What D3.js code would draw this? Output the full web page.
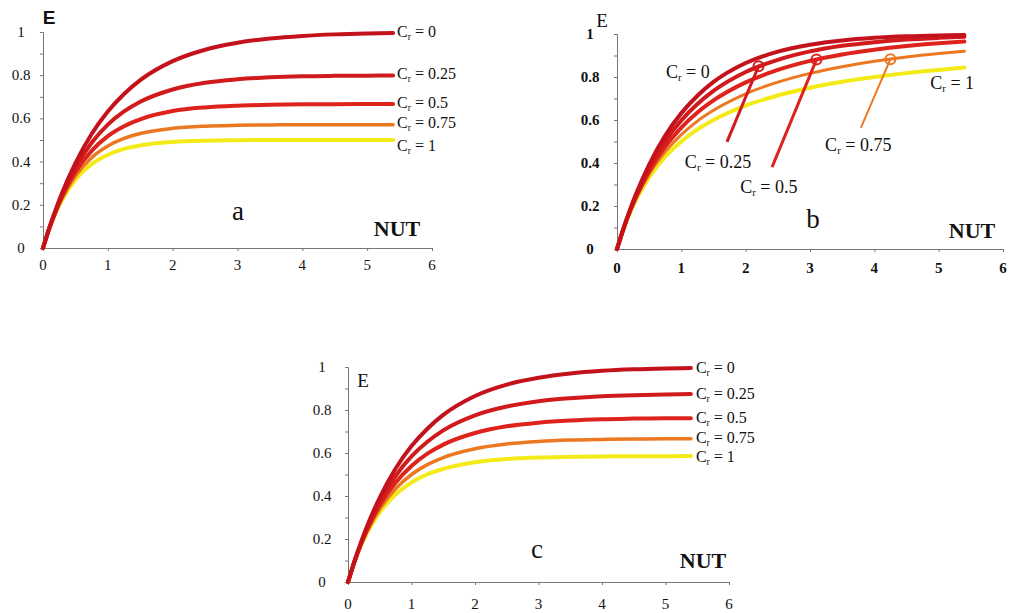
<!DOCTYPE html>
<html><head><meta charset="utf-8">
<script src="https://cdn.jsdelivr.net/npm/d3@7"></script>
<style>
html,body{margin:0;padding:0;background:#fff;}
svg{display:block;}
</style></head>
<body>
<svg id="chart" width="1009" height="613"></svg>
<script>
// ---- data ----
const nut = [0, 0.1, 0.2, 0.3, 0.5, 0.75, 1, 1.25, 1.5, 2, 2.5, 3, 3.5, 4, 4.5, 5, 5.4];
const crValues = [0, 0.25, 0.5, 0.75, 1];
const crColors = ["#c4121c", "#d01a1c", "#de221c", "#ec7822", "#f4ea18"];
const xTicks = [0, 1, 2, 3, 4, 5, 6];
const yTicks = [0, 0.2, 0.4, 0.6, 0.8, 1];
const yTickLabels = ["0", "0.2", "0.4", "0.6", "0.8", "1"];

// panel a
const aE0   = [0, 0.095, 0.181, 0.259, 0.393, 0.528, 0.632, 0.713, 0.777, 0.865, 0.918, 0.950, 0.970, 0.982, 0.989, 0.993, 0.995];
const aE025 = [0, 0.094, 0.177, 0.250, 0.372, 0.487, 0.571, 0.632, 0.677, 0.734, 0.765, 0.781, 0.790, 0.795, 0.797, 0.798, 0.799];
const aE05  = [0, 0.093, 0.173, 0.242, 0.352, 0.450, 0.518, 0.564, 0.596, 0.634, 0.651, 0.659, 0.663, 0.665, 0.666, 0.667, 0.667];
const aE075 = [0, 0.092, 0.169, 0.233, 0.333, 0.418, 0.472, 0.507, 0.530, 0.554, 0.564, 0.568, 0.570, 0.571, 0.571, 0.571, 0.571];
const aE1   = [0, 0.091, 0.165, 0.226, 0.316, 0.388, 0.432, 0.459, 0.475, 0.491, 0.497, 0.499, 0.500, 0.500, 0.500, 0.500, 0.500];
const aLabelE = [1.0, 0.806, 0.671, 0.579, 0.472];

// panel b
const bE0   = [0, 0.095, 0.181, 0.259, 0.393, 0.528, 0.632, 0.713, 0.777, 0.865, 0.918, 0.950, 0.970, 0.982, 0.989, 0.993, 0.995];
const bE025 = [0, 0.094, 0.178, 0.252, 0.378, 0.502, 0.598, 0.674, 0.735, 0.823, 0.880, 0.919, 0.945, 0.962, 0.974, 0.982, 0.987];
const bE05  = [0, 0.093, 0.174, 0.245, 0.362, 0.476, 0.565, 0.635, 0.691, 0.775, 0.833, 0.875, 0.905, 0.927, 0.944, 0.957, 0.965];
const bE075 = [0, 0.092, 0.170, 0.238, 0.348, 0.452, 0.532, 0.595, 0.645, 0.722, 0.776, 0.817, 0.848, 0.873, 0.893, 0.909, 0.920];
const bE1   = [0, 0.091, 0.167, 0.231, 0.333, 0.429, 0.500, 0.556, 0.600, 0.667, 0.714, 0.750, 0.778, 0.800, 0.818, 0.833, 0.844];
const bMarkers = [ {nut: 2.2, e: 0.850, i: 1, lx: 1.71, ly: 0.498},
                   {nut: 3.1, e: 0.881, i: 2, lx: 2.41, ly: 0.381},
                   {nut: 4.25, e: 0.883, i: 3, lx: 3.79, ly: 0.563} ];
const bLabels = [ {i: 0, nut: 1.10, e: 0.823}, {i: 1, nut: 1.57, e: 0.405}, {i: 2, nut: 2.36, e: 0.288},
                  {i: 3, nut: 3.75, e: 0.484}, {i: 4, nut: 5.21, e: 0.772} ];

// panel c
const cE0   = [0, 0.095, 0.181, 0.259, 0.393, 0.528, 0.632, 0.713, 0.777, 0.865, 0.918, 0.950, 0.970, 0.982, 0.989, 0.993, 0.995];
const cE025 = [0, 0.094, 0.177, 0.251, 0.375, 0.494, 0.584, 0.652, 0.705, 0.775, 0.816, 0.841, 0.855, 0.864, 0.869, 0.872, 0.874];
const cE05  = [0, 0.093, 0.173, 0.243, 0.357, 0.463, 0.540, 0.597, 0.639, 0.693, 0.724, 0.741, 0.751, 0.757, 0.760, 0.762, 0.762];
const cE075 = [0, 0.092, 0.170, 0.235, 0.340, 0.434, 0.500, 0.546, 0.579, 0.620, 0.642, 0.654, 0.660, 0.663, 0.665, 0.666, 0.666];
const cE1   = [0, 0.091, 0.166, 0.228, 0.324, 0.407, 0.463, 0.501, 0.526, 0.557, 0.572, 0.579, 0.582, 0.584, 0.585, 0.585, 0.586];
const cLabelE = [0.994, 0.874, 0.762, 0.669, 0.581];

// ---- drawing ----
const SERIF = '"Liberation Serif","Times New Roman",serif';
const SANS = '"Liberation Sans",Arial,sans-serif';
const svg = d3.select("#chart");

function crText(sel, cr, size) {
  sel.append("tspan").text("C");
  sel.append("tspan").attr("font-size", size * 0.6).attr("dy", 3).text("r");
  sel.append("tspan").attr("dy", -3).text(" = " + cr);
}

function panel(cfg) {
  const x = d3.scaleLinear().domain([0, 6]).range([cfg.x0, cfg.x1]);
  const y = d3.scaleLinear().domain([0, 1]).range([cfg.y0, cfg.y1]);
  const g = svg.append("g").style("font-family", SERIF).style("fill", "#111");

  // axes
  const xAxis = d3.axisBottom(x).tickValues(xTicks).tickSize(3).tickFormat("");
  const ga = g.append("g").attr("transform", `translate(0,${cfg.y0})`).call(xAxis);
  const yAxis = d3.axisLeft(y).tickValues(d3.range(0, 11).map(d => d / 10)).tickSize(3).tickFormat("");
  const gb = g.append("g").attr("transform", `translate(${cfg.x0},0)`).call(yAxis);
  [ga, gb].forEach(s => {
    s.select(".domain").attr("stroke", "#777").attr("stroke-width", 1);
    s.selectAll(".tick line").attr("stroke", "#777");
  });

  g.selectAll(".xl").data(xTicks).join("text")
    .attr("x", d => x(d)).attr("y", cfg.y0 + cfg.xlab)
    .attr("text-anchor", "middle").attr("font-size", 15)
    .attr("font-weight", cfg.tickBold ? "bold" : "normal").attr("fill", "#111").text(d => d);
  g.selectAll(".yl").data(yTicks).join("text")
    .attr("x", cfg.x0 - cfg.ylab).attr("y", d => y(d) + 5)
    .attr("text-anchor", "middle").attr("font-size", 15)
    .attr("font-weight", cfg.tickBold ? "bold" : "normal").attr("fill", "#111").text((d, i) => yTickLabels[i]);

  // curves
  const line = d3.line().x((d, i) => x(nut[i])).y(d => y(d)).curve(d3.curveMonotoneX);
  for (let i = cfg.series.length - 1; i >= 0; i--) {
    g.append("path").attr("d", line(cfg.series[i]))
      .attr("fill", "none").attr("stroke", crColors[i])
      .attr("stroke-width", cfg.widths[i]).attr("stroke-linecap", "round");
  }

  // labels
  g.append("text").attr("x", cfg.eX).attr("y", cfg.eY).attr("font-size", 19)
    .attr("font-weight", cfg.eBold ? "bold" : "normal")
    .style("font-family", cfg.eBold ? SANS : SERIF).attr("fill", "#111")
    .attr("text-anchor", "middle").text("E");
  g.append("text").attr("x", cfg.nX).attr("y", cfg.nY).attr("font-size", 22)
    .attr("font-weight", "bold").attr("fill", "#111").attr("text-anchor", "middle").text("NUT");
  g.append("text").attr("x", cfg.lX).attr("y", cfg.lY).attr("font-size", 27)
    .attr("fill", "#111").attr("text-anchor", "middle").text(cfg.letter);
  return {x, y, g};
}

// panel a
const pa = panel({x0: 43, x1: 432, y0: 248, y1: 32, xlab: 22, ylab: 22, tickBold: false,
  series: [aE0, aE025, aE05, aE075, aE1], widths: [4, 4, 4, 3.5, 4],
  eX: 49, eY: 24, eBold: true, nX: 397, nY: 236, lX: 238, lY: 220, letter: "a"});
crValues.forEach((c, i) => {
  const t = pa.g.append("text").attr("x", pa.x(5.4) + 4).attr("y", pa.y(aLabelE[i]) + 5)
    .attr("font-size", 16).attr("fill", "#111");
  crText(t, c, 16);
});

// panel b
const pb = panel({x0: 617, x1: 1003, y0: 249, y1: 34, xlab: 24, ylab: 27, tickBold: true,
  series: [bE0, bE025, bE05, bE075, bE1], widths: [4, 4, 4, 3, 4],
  eX: 602, eY: 27, eBold: false, nX: 972, nY: 238, lX: 813, lY: 228, letter: "b"});
bMarkers.forEach(m => {
  pb.g.append("line").attr("x1", pb.x(m.nut)).attr("y1", pb.y(m.e))
    .attr("x2", pb.x(m.lx)).attr("y2", pb.y(m.ly))
    .attr("stroke", crColors[m.i]).attr("stroke-width", m.i === 3 ? 2 : 3);
  pb.g.append("circle").attr("cx", pb.x(m.nut)).attr("cy", pb.y(m.e)).attr("r", 5)
    .attr("fill", "none").attr("stroke", crColors[m.i]).attr("stroke-width", 2);
});
bLabels.forEach(l => {
  const t = pb.g.append("text").attr("x", pb.x(l.nut)).attr("y", pb.y(l.e) + 6)
    .attr("font-size", 18).attr("fill", "#111").attr("text-anchor", "middle");
  crText(t, crValues[l.i], 18);
});

// panel c
const pc = panel({x0: 348, x1: 729, y0: 582, y1: 367, xlab: 27, ylab: 26, tickBold: false,
  series: [cE0, cE025, cE05, cE075, cE1], widths: [4, 4, 4, 3.5, 4],
  eX: 363, eY: 387, eBold: false, nX: 703, nY: 568, lX: 537, lY: 558, letter: "c"});
crValues.forEach((c, i) => {
  const t = pc.g.append("text").attr("x", pc.x(5.4) + 5).attr("y", pc.y(cLabelE[i]) + 5)
    .attr("font-size", 16).attr("fill", "#111");
  crText(t, c, 16);
});
</script>
</body></html>
